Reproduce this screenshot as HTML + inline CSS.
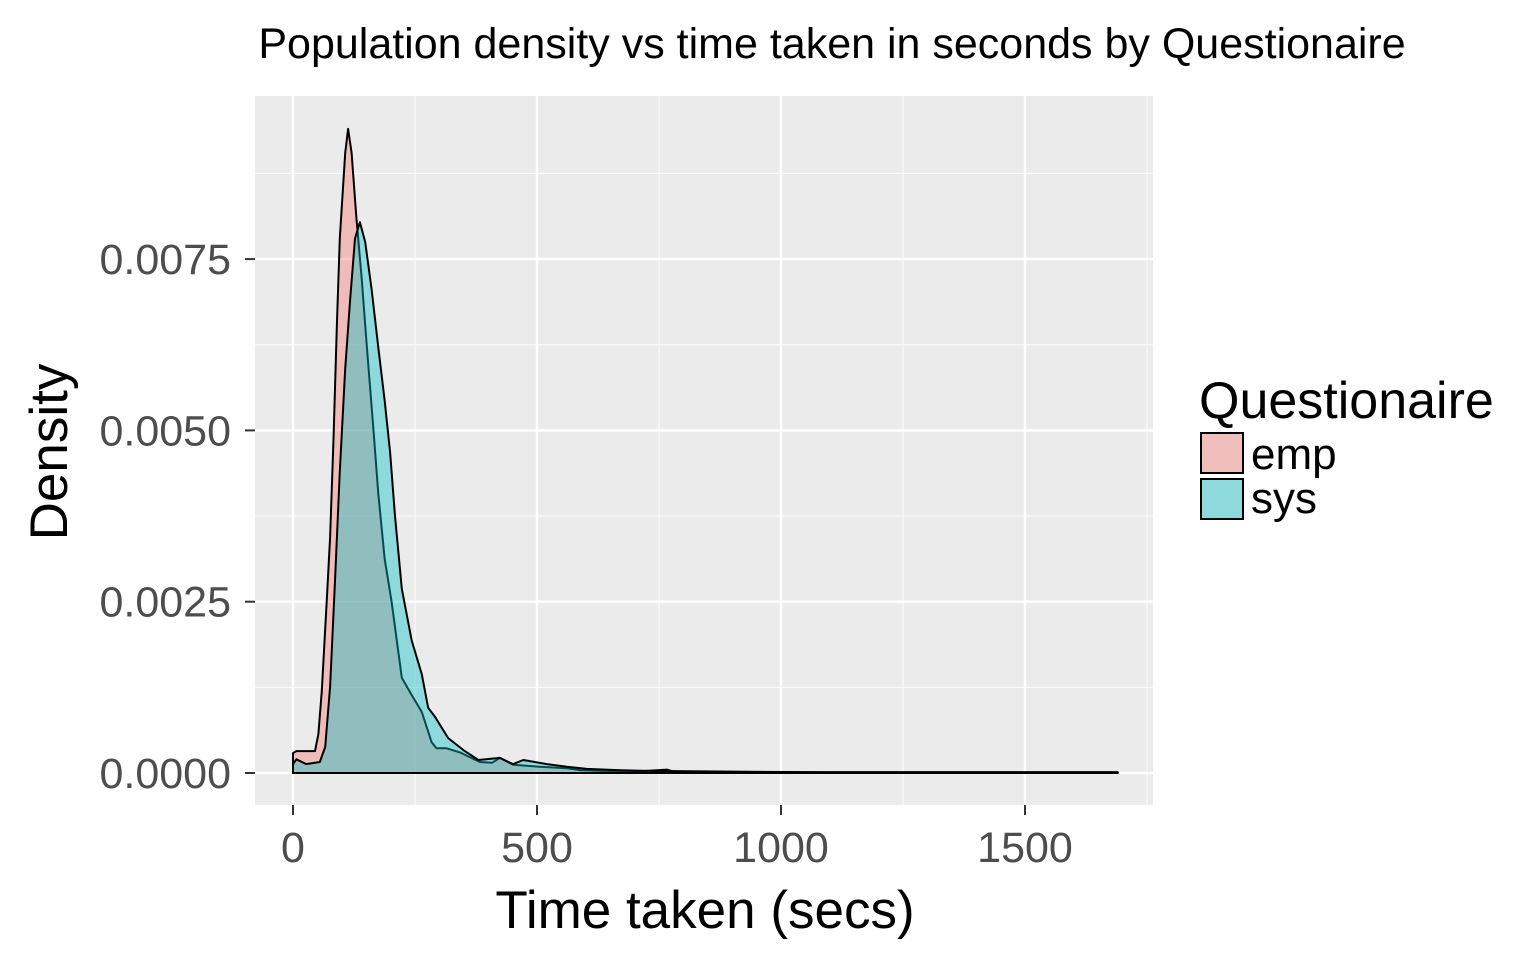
<!DOCTYPE html>
<html><head><meta charset="utf-8">
<style>
html,body{margin:0;padding:0;background:#fff;}
svg{display:block;font-family:"Liberation Sans",Arial,sans-serif;}
</style></head>
<body>
<svg id="chart" width="1536" height="960" xmlns="http://www.w3.org/2000/svg">
<text x="832" y="58" font-size="43" text-anchor="middle" fill="#000">Population density vs time taken in seconds by Questionaire</text>
<rect x="255" y="96" width="898" height="709" fill="#ebebeb"/>
<g id="grid"></g>
<g id="series"></g>
<g id="axes"></g>
<text x="705" y="928" font-size="53" text-anchor="middle" fill="#000">Time taken (secs)</text>
<text transform="translate(67,452) rotate(-90)" font-size="53" text-anchor="middle" fill="#000">Density</text>
<g>
<text x="1199" y="418" font-size="52" fill="#000">Questionaire</text>
<rect x="1201" y="433" width="42" height="40" fill="#f1bfbb" stroke="#000" stroke-width="2"/>
<text x="1251" y="469" font-size="44" fill="#000">emp</text>
<rect x="1201" y="479" width="42" height="40" fill="#8fdadd" stroke="#000" stroke-width="2"/>
<text x="1251" y="513" font-size="44" fill="#000">sys</text>
</g>
</svg>
<script>
const xTicks=[0,500,1000,1500];
const xMinor=[250,750,1250,1750];
const yTicks=[0,0.0025,0.005,0.0075];
const yTickLabels=["0.0000","0.0025","0.0050","0.0075"];
const yMinor=[0.00125,0.00375,0.00625,0.00875];
const empX=[0,7,45,52,59,69,76,83,90,96,107,113,120,130,141,151,165,175,188,202,223,243,264,284,294,315,342,383,408,424,451,506,561,590,700,766,780,900,1100,1300,1500,1690];
const empY=[0.00029,0.00032,0.00032,0.00057,0.0012,0.0025,0.00344,0.00487,0.00655,0.0078,0.00905,0.0094,0.00905,0.0081,0.0072,0.00625,0.005,0.00406,0.00312,0.0025,0.00139,0.00114,0.00089,0.00045,0.00036,0.00036,0.0003,0.00016,0.00015,0.00022,0.00012,0.00009,0.00007,0.00004,0.00002,0.00005,0.00002,0.00001,0.00001,0.00001,0.00001,0.00001];
const sysX=[0,7,27,55,66,76,86,96,107,117,127,137,148,161,175,188,199,209,223,243,264,277,291,318,352,380,424,451,472,520,561,602,672,727,900,1100,1300,1500,1690];
const sysY=[0.00013,0.0002,0.00013,0.00016,0.00038,0.00126,0.0028,0.0044,0.0059,0.0069,0.0078,0.00804,0.00775,0.00706,0.0062,0.00543,0.00468,0.00375,0.00269,0.00194,0.00144,0.00095,0.00082,0.00051,0.00032,0.00019,0.00022,0.00013,0.00019,0.00013,0.00009,0.00006,0.00004,0.00003,0.00002,0.00001,0.00001,0.00001,0.00001];
const NS="http://www.w3.org/2000/svg";
const X=v=>293+v*0.488;
const Y=v=>773-v/0.0025*171.3;
function mk(tag,attrs,parent){const e=document.createElementNS(NS,tag);for(const k in attrs)e.setAttribute(k,attrs[k]);parent.appendChild(e);return e;}
const grid=document.getElementById('grid'),ser=document.getElementById('series'),ax=document.getElementById('axes');
xMinor.forEach(v=>{const l=mk('line',{x1:X(v),x2:X(v),y1:96,y2:805,stroke:'#fafafa','stroke-width':1.2},grid);

});
yMinor.forEach(v=>{const l=mk('line',{x1:255,x2:1153,y1:Y(v),y2:Y(v),stroke:'#fafafa','stroke-width':1.2},grid);

});
xTicks.forEach(v=>{const l=mk('line',{x1:X(v),x2:X(v),y1:96,y2:805,stroke:'#fff','stroke-width':2.4},grid);


const t=mk('line',{x1:X(v),x2:X(v),y1:805,y2:815,stroke:'#333','stroke-width':2},ax);


const tx=mk('text',{x:X(v),y:862,'font-size':43,'text-anchor':'middle',fill:'#4d4d4d'},ax);tx.textContent=v;

});
yTicks.forEach((v,i)=>{const l=mk('line',{x1:255,x2:1153,y1:Y(v),y2:Y(v),stroke:'#fff','stroke-width':2.4},grid);


const t=mk('line',{x1:245,x2:255,y1:Y(v),y2:Y(v),stroke:'#333','stroke-width':2},ax);


const tx=mk('text',{x:231,y:Y(v)+15,'font-size':43,'text-anchor':'end',fill:'#4d4d4d'},ax);tx.textContent=yTickLabels[i];

});
function area(xs,ys,fill,name){let d='M'+X(xs[0])+','+Y(0);xs.forEach((x,i)=>{d+=' L'+X(x).toFixed(1)+','+Y(ys[i]).toFixed(1);});d+=' L'+X(xs[xs.length-1])+','+Y(0)+' Z';
const p=mk('path',{d:d,fill:fill,'fill-opacity':0.4,stroke:'#000','stroke-width':2,'stroke-linejoin':'round'},ser);

}
area(empX,empY,'#F8766D','density-emp');
area(sysX,sysY,'#00BFC4','density-sys');
</script>
</body></html>
